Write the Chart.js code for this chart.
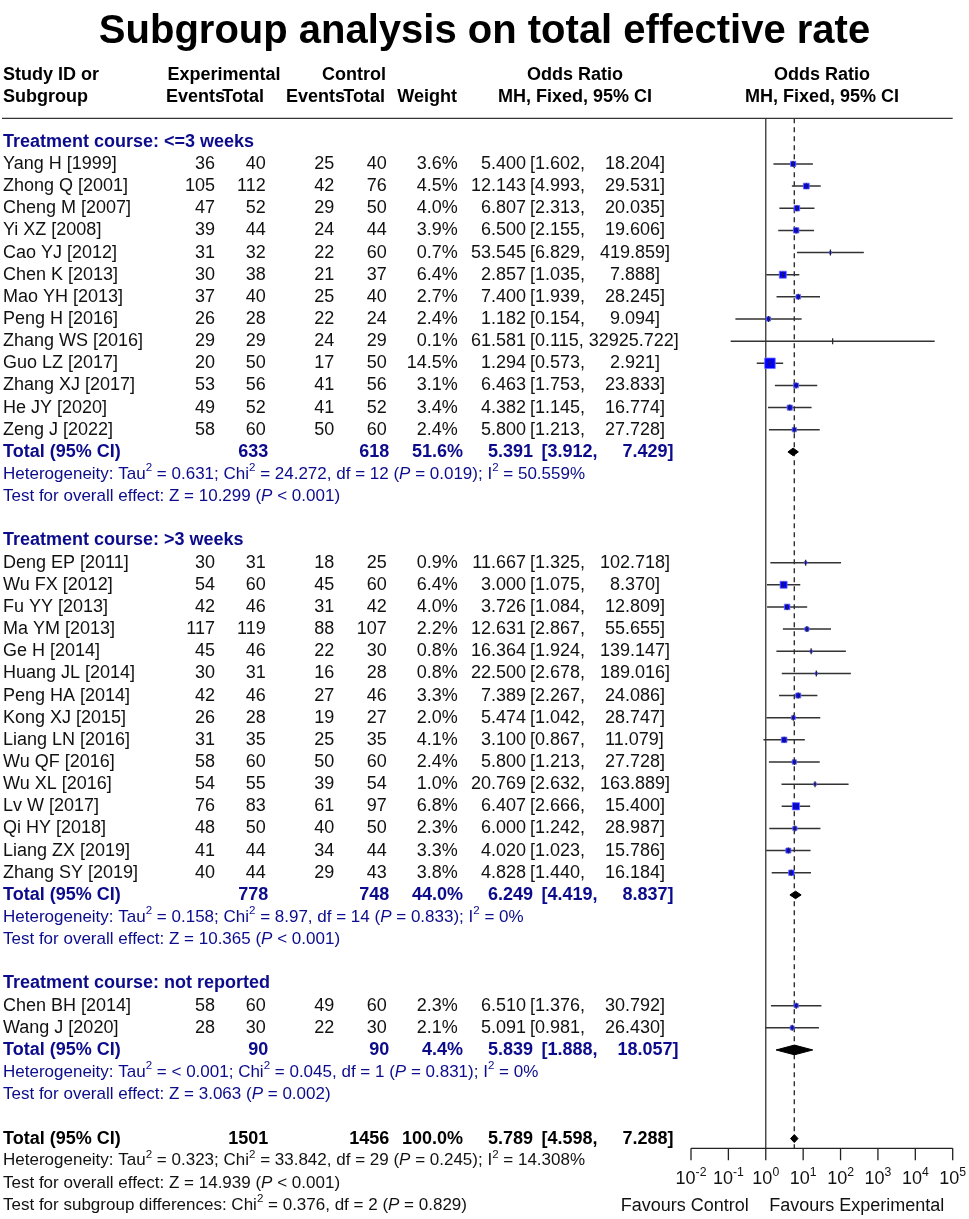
<!DOCTYPE html>
<html>
<head>
<meta charset="utf-8">
<title>Subgroup analysis on total effective rate</title>
<script src="https://cdn.jsdelivr.net/npm/chart.js@4.4.1/dist/chart.umd.min.js"></script>
<style>
  html, body { margin: 0; padding: 0; background: #fff; }
  canvas { display: block; }
</style>
</head>
<body>
<canvas id="forest" width="969" height="1219"></canvas>
<script>
// ---- data ----
const studyNames = [
  'Yang H [1999]', 'Zhong Q [2001]', 'Cheng M [2007]', 'Yi XZ [2008]', 'Cao YJ [2012]',
  'Chen K [2013]', 'Mao YH [2013]', 'Peng H [2016]', 'Zhang WS [2016]', 'Guo LZ [2017]',
  'Zhang XJ [2017]', 'He JY [2020]', 'Zeng J [2022]',
  'Deng EP [2011]', 'Wu FX [2012]', 'Fu YY [2013]', 'Ma YM [2013]', 'Ge H [2014]',
  'Huang JL [2014]', 'Peng HA [2014]', 'Kong XJ [2015]', 'Liang LN [2016]', 'Wu QF [2016]',
  'Wu XL [2016]', 'Lv W [2017]', 'Qi HY [2018]', 'Liang ZX [2019]', 'Zhang SY [2019]',
  'Chen BH [2014]', 'Wang J [2020]'
];
const studyGroup = [0,0,0,0,0,0,0,0,0,0,0,0,0, 1,1,1,1,1,1,1,1,1,1,1,1,1,1,1, 2,2];
const expEvents  = [36,105,47,39,31,30,37,26,29,20,53,49,58, 30,54,42,117,45,30,42,26,31,58,54,76,48,41,40, 58,28];
const expTotal   = [40,112,52,44,32,38,40,28,29,50,56,52,60, 31,60,46,119,46,31,46,28,35,60,55,83,50,44,44, 60,30];
const ctrlEvents = [25,42,29,24,22,21,25,22,24,17,41,41,50, 18,45,31,88,22,16,27,19,25,50,39,61,40,34,29, 49,22];
const ctrlTotal  = [40,76,50,44,60,37,40,24,29,50,56,52,60, 25,60,42,107,30,28,46,27,35,60,54,97,50,44,43, 60,30];
const weights    = [3.6,4.5,4.0,3.9,0.7,6.4,2.7,2.4,0.1,14.5,3.1,3.4,2.4,
                    0.9,6.4,4.0,2.2,0.8,0.8,3.3,2.0,4.1,2.4,1.0,6.8,2.3,3.3,3.8, 2.3,2.1];
const orEst  = [5.400,12.143,6.807,6.500,53.545,2.857,7.400,1.182,61.581,1.294,6.463,4.382,5.800,
                11.667,3.000,3.726,12.631,16.364,22.500,7.389,5.474,3.100,5.800,20.769,6.407,6.000,4.020,4.828,
                6.510,5.091];
const ciLow  = [1.602,4.993,2.313,2.155,6.829,1.035,1.939,0.154,0.115,0.573,1.753,1.145,1.213,
                1.325,1.075,1.084,2.867,1.924,2.678,2.267,1.042,0.867,1.213,2.632,2.666,1.242,1.023,1.440,
                1.376,0.981];
const ciHigh = [18.204,29.531,20.035,19.606,419.859,7.888,28.245,9.094,32925.722,2.921,23.833,16.774,27.728,
                102.718,8.370,12.809,55.655,139.147,189.016,24.086,28.747,11.079,27.728,163.889,15.400,28.987,15.786,16.184,
                30.792,26.430];

const groupTitles    = ['Treatment course: <=3 weeks', 'Treatment course: >3 weeks', 'Treatment course: not reported'];
const groupExpTotal  = [633, 778, 90];
const groupCtrlTotal = [618, 748, 90];
const groupWeight    = [51.6, 44.0, 4.4];
const groupEst       = [5.391, 6.249, 5.839];
const groupLow       = [3.912, 4.419, 1.888];
const groupHigh      = [7.429, 8.837, 18.057];
const groupTau       = ['0.631', '0.158', '< 0.001'];
const groupChi       = ['24.272', '8.97', '0.045'];
const groupDf        = [12, 14, 1];
const groupHetP      = ['= 0.019', '= 0.833', '= 0.831'];
const groupI2        = ['50.559%', '0%', '0%'];
const groupZ         = ['10.299', '10.365', '3.063'];
const groupZP        = ['< 0.001', '< 0.001', '= 0.002'];

const overallExp = 1501, overallCtrl = 1456, overallWeight = 100.0;
const overallEst = 5.789, overallLow = 4.598, overallHigh = 7.288;
const overallTau = '0.323', overallChi = '33.842', overallDf = 29, overallHetP = '= 0.245', overallI2 = '14.308%';
const overallZ = '14.939', overallZP = '< 0.001';
const subgroupChi = '0.376', subgroupDf = 2, subgroupP = '= 0.829';

const tickExps = [-2, -1, 0, 1, 2, 3, 4, 5];

// ---- layout ----
const FONT = '"Liberation Sans", Arial, Helvetica, sans-serif';
const BLUE = '#0b0b8c';
const SMALL = 17;
const X = { name: 3, expEv: 215, expTot: 265.7, ctrlEv: 334.3, ctrlTot: 386.7, weight: 457.7, est: 526, ci: 530 };
const XB = { expTot: 268.3, ctrlTot: 389.3, weight: 463, est: 533, ci: 541.5 };
const ROW_MIN = -1.06, ROW_MAX = 45.44;

// assign rows
const rows = [];
const studyRow = [];
const totalRows = [];
let r = 0;
groupTitles.forEach((title, g) => {
  rows.push({ r: r++, kind: 'group', text: title });
  studyGroup.forEach((sg, i) => {
    if (sg === g) { studyRow[i] = r; rows.push({ r: r++, kind: 'study', i }); }
  });
  totalRows.push(r);
  rows.push({ r: r++, kind: 'total', g });
  rows.push({ r: r++, kind: 'het', g });
  rows.push({ r: r++, kind: 'test', g });
  r++;
});
const overallRow = r;

const hetSegs = (tau, chi, df, p, i2) => [
  ['Heterogeneity: Tau'], ['2', 'sup'], [' = ' + tau + '; Chi'], ['2', 'sup'],
  [' = ' + chi + ', df = ' + df + ' ('], ['P', 'it'], [' ' + p + '); I'], ['2', 'sup'], [' = ' + i2]
];
const testSegs = (z, p) => [['Test for overall effect: Z = ' + z + ' ('], ['P', 'it'], [' ' + p + ')']];

// ---- datasets ----
const ciData = [];
const sqData = [];
const sqRadius = [];
studyNames.forEach((n, i) => {
  const y = studyRow[i];
  ciData.push({ x: ciLow[i], y }, { x: ciHigh[i], y }, { x: 1, y: null });
  sqData.push({ x: orEst[i], y });
  sqRadius.push(1.95 * Math.sqrt(weights[i]));
});

const diamond = (est, lo, hi, y, h) => ({
  type: 'scatter',
  data: [{ x: lo, y }, { x: est, y: y - h }, { x: hi, y }, { x: est, y: y + h }, { x: lo, y }],
  showLine: true, fill: 'shape', backgroundColor: '#000', borderColor: '#000', borderWidth: 1,
  pointRadius: 0, order: 1
});

const datasets = [
  { data: [{ x: 1, y: ROW_MIN }, { x: 1, y: ROW_MAX }], showLine: true, borderColor: '#333',
    borderWidth: 1.3, pointRadius: 0, order: 5 },
  { data: [{ x: overallEst, y: ROW_MIN }, { x: overallEst, y: ROW_MAX }], showLine: true, borderColor: '#222',
    borderWidth: 1.3, borderDash: [5, 4], pointRadius: 0, order: 5 },
  { data: ciData, showLine: true, spanGaps: false, borderColor: '#333', borderWidth: 1.5, pointRadius: 0, order: 4 },
  { data: sqData, pointStyle: 'rect', pointRadius: sqRadius, backgroundColor: '#0000ff',
    borderColor: '#6a6aff', borderWidth: 0.8, order: 3 },
  { data: sqData, pointStyle: 'line', rotation: 90, pointRadius: 3, borderColor: '#222', borderWidth: 1.2, order: 2 }
];
groupEst.forEach((e, g) => datasets.push(diamond(e, groupLow[g], groupHigh[g], totalRows[g], g === 2 ? 0.22 : 0.17)));
datasets.push(diamond(overallEst, overallLow, overallHigh, overallRow, 0.18));

// ---- text helpers ----
function richWidth(ctx, segs, size, weight) {
  let w = 0;
  segs.forEach(([t, st]) => {
    ctx.font = (st === 'it' ? 'italic ' : '') + weight + ' ' + (st === 'sup' ? size * 0.68 : size) + 'px ' + FONT;
    w += ctx.measureText(t).width;
  });
  return w;
}
function drawRich(ctx, segs, x, y, size, color, weight = 'normal') {
  let cx = x;
  ctx.fillStyle = color;
  ctx.textAlign = 'left';
  ctx.textBaseline = 'middle';
  segs.forEach(([t, st]) => {
    const fs = st === 'sup' ? size * 0.68 : size;
    ctx.font = (st === 'it' ? 'italic ' : '') + weight + ' ' + fs + 'px ' + FONT;
    ctx.fillText(t, cx, y + (st === 'sup' ? -size * 0.36 : 0));
    cx += ctx.measureText(t).width;
  });
}
function txt(ctx, t, x, y, align, font, color) {
  ctx.font = font;
  ctx.fillStyle = color;
  ctx.textAlign = align;
  ctx.textBaseline = 'middle';
  ctx.fillText(t, x, y);
}
function ciText(lo, hi) {
  const up = hi.toFixed(3);
  return '[' + lo.toFixed(3) + ', ' + ' '.repeat(Math.max(0, 9 - up.length)) + up + ']';
}
function totalLine(ctx, y, label, expT, ctrlT, w, est, lo, hi, color) {
  const f = 'bold 18px ' + FONT;
  txt(ctx, label, X.name, y, 'left', f, color);
  txt(ctx, String(expT), XB.expTot, y, 'right', f, color);
  txt(ctx, String(ctrlT), XB.ctrlTot, y, 'right', f, color);
  txt(ctx, w.toFixed(1) + '%', XB.weight, y, 'right', f, color);
  txt(ctx, est.toFixed(3), XB.est, y, 'right', f, color);
  txt(ctx, ciText(lo, hi), XB.ci, y, 'left', f, color);
}

const tablePlugin = {
  id: 'forestTable',
  beforeDraw(chart) {
    const ctx = chart.ctx;
    ctx.save();
    ctx.fillStyle = '#fff';
    ctx.fillRect(0, 0, chart.width, chart.height);
    ctx.restore();
  },
  afterDraw(chart) {
    const ctx = chart.ctx;
    const ys = chart.scales.y, xs = chart.scales.x;
    const py = v => ys.getPixelForValue(v);
    ctx.save();

    // title + header
    txt(ctx, 'Subgroup analysis on total effective rate', chart.width / 2, py(-5) + 1, 'center', 'bold 40px ' + FONT, '#000');
    const hb = 'bold 18px ' + FONT;
    txt(ctx, 'Study ID or', X.name, py(-3), 'left', hb, '#000');
    txt(ctx, 'Subgroup', X.name, py(-2), 'left', hb, '#000');
    txt(ctx, 'Experimental', 224, py(-3), 'center', hb, '#000');
    txt(ctx, 'Control', 354, py(-3), 'center', hb, '#000');
    txt(ctx, 'Events', 166, py(-2), 'left', hb, '#000');
    txt(ctx, 'Total', 264, py(-2), 'right', hb, '#000');
    txt(ctx, 'Events', 286, py(-2), 'left', hb, '#000');
    txt(ctx, 'Total', 385, py(-2), 'right', hb, '#000');
    txt(ctx, 'Weight', 457, py(-2), 'right', hb, '#000');
    [575, 822].forEach(cx => {
      txt(ctx, 'Odds Ratio', cx, py(-3), 'center', hb, '#000');
      txt(ctx, 'MH, Fixed, 95% CI', cx, py(-2), 'center', hb, '#000');
    });
    ctx.strokeStyle = '#333';
    ctx.lineWidth = 1.3;
    ctx.beginPath();
    ctx.moveTo(2, chart.chartArea.top);
    ctx.lineTo(xs.getPixelForValue(1e5), chart.chartArea.top);
    ctx.stroke();

    // table body
    const nf = '18px ' + FONT;
    rows.forEach(row => {
      const y = py(row.r);
      if (row.kind === 'group') {
        txt(ctx, row.text, X.name, y, 'left', 'bold 18px ' + FONT, BLUE);
      } else if (row.kind === 'study') {
        const i = row.i;
        txt(ctx, studyNames[i], X.name, y, 'left', nf, '#111');
        txt(ctx, String(expEvents[i]), X.expEv, y, 'right', nf, '#111');
        txt(ctx, String(expTotal[i]), X.expTot, y, 'right', nf, '#111');
        txt(ctx, String(ctrlEvents[i]), X.ctrlEv, y, 'right', nf, '#111');
        txt(ctx, String(ctrlTotal[i]), X.ctrlTot, y, 'right', nf, '#111');
        txt(ctx, weights[i].toFixed(1) + '%', X.weight, y, 'right', nf, '#111');
        txt(ctx, orEst[i].toFixed(3), X.est, y, 'right', nf, '#111');
        txt(ctx, ciText(ciLow[i], ciHigh[i]), X.ci, y, 'left', nf, '#111');
      } else if (row.kind === 'total') {
        const g = row.g;
        totalLine(ctx, y, 'Total (95% CI)', groupExpTotal[g], groupCtrlTotal[g], groupWeight[g],
          groupEst[g], groupLow[g], groupHigh[g], BLUE);
      } else if (row.kind === 'het') {
        const g = row.g;
        drawRich(ctx, hetSegs(groupTau[g], groupChi[g], groupDf[g], groupHetP[g], groupI2[g]), X.name, y, SMALL, BLUE);
      } else if (row.kind === 'test') {
        drawRich(ctx, testSegs(groupZ[row.g], groupZP[row.g]), X.name, y, SMALL, BLUE);
      }
    });
    totalLine(ctx, py(overallRow), 'Total (95% CI)', overallExp, overallCtrl, overallWeight,
      overallEst, overallLow, overallHigh, '#000');
    drawRich(ctx, hetSegs(overallTau, overallChi, overallDf, overallHetP, overallI2), X.name, py(overallRow + 1), SMALL, '#111');
    drawRich(ctx, testSegs(overallZ, overallZP), X.name, py(overallRow + 2), SMALL, '#111');
    drawRich(ctx, [['Test for subgroup differences: Chi'], ['2', 'sup'],
      [' = ' + subgroupChi + ', df = ' + subgroupDf + ' ('], ['P', 'it'], [' ' + subgroupP + ')']],
      X.name, py(overallRow + 3), SMALL, '#111');

    // x axis (log scale)
    const yb = chart.chartArea.bottom;
    ctx.strokeStyle = '#222';
    ctx.lineWidth = 1.3;
    ctx.beginPath();
    ctx.moveTo(xs.getPixelForValue(Math.pow(10, tickExps[0])), yb);
    ctx.lineTo(xs.getPixelForValue(Math.pow(10, tickExps[tickExps.length - 1])), yb);
    tickExps.forEach(e => {
      const px = xs.getPixelForValue(Math.pow(10, e));
      ctx.moveTo(px, yb);
      ctx.lineTo(px, yb + 12);
    });
    ctx.stroke();
    tickExps.forEach(e => {
      const px = xs.getPixelForValue(Math.pow(10, e));
      const segs = [['10'], [String(e), 'sup']];
      const w = richWidth(ctx, segs, 18, 'normal');
      drawRich(ctx, segs, px - w / 2, yb + 31, 18, '#111');
    });
    const x1 = xs.getPixelForValue(1);
    txt(ctx, 'Favours Control', x1 - 17, yb + 58, 'right', nf, '#111');
    txt(ctx, 'Favours Experimental', x1 + 3.5, yb + 58, 'left', nf, '#111');

    ctx.restore();
  }
};

new Chart(document.getElementById('forest'), {
  type: 'scatter',
  data: { datasets },
  options: {
    responsive: false,
    animation: false,
    events: [],
    layout: { padding: { left: 691, right: 16.3, top: 118.3, bottom: 70.7 } },
    scales: {
      x: { type: 'logarithmic', min: 0.01, max: 100000, display: false },
      y: { type: 'linear', min: ROW_MIN, max: ROW_MAX, reverse: true, display: false }
    },
    plugins: { legend: { display: false }, tooltip: { enabled: false } }
  },
  plugins: [tablePlugin]
});
</script>
</body>
</html>
